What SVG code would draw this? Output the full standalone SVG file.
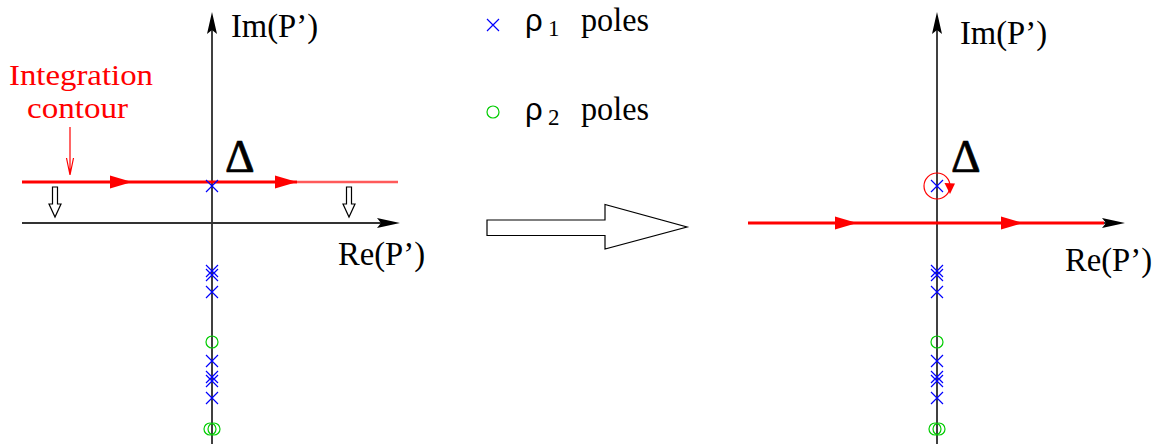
<svg xmlns="http://www.w3.org/2000/svg" width="1155" height="444" viewBox="0 0 1155 444">
<style>
.axis{stroke:#000;stroke-width:1.5;fill:none}
.haxis{stroke:#333;stroke-width:2;fill:none}
.ah{fill:#000;stroke:none}
.red{stroke:#ff0000;stroke-width:3;fill:none}
.redlight{stroke:#ff5a5a;stroke-width:2.5;fill:none}
.rah{fill:#ff0000;stroke:none}
.lbl{font-family:"Liberation Serif",serif;font-size:33px;fill:#000}
.delta{font-family:"Liberation Serif",serif;font-size:46px;fill:#000;stroke:#000;stroke-width:0.7}
.rho{font-family:"Liberation Sans",sans-serif;font-size:31px;fill:#000}
.sub{font-family:"Liberation Serif",serif;font-size:23px;fill:#000}
.redtxt{font-family:"Liberation Serif",serif;font-size:30px;fill:#ff0000}
.hollow{fill:#fff;stroke:#000;stroke-width:1.2}
</style>
<defs>
<g id="x"><path d="M-6,-6 L6,6 M-6,6 L6,-6" stroke="#0000ff" stroke-width="1.2" fill="none"/></g>
<g id="xx"><path d="M-6,-8 L6,4 M-6,4 L6,-8 M-6,-4 L6,8 M-6,8 L6,-4" stroke="#0000ff" stroke-width="1.2" fill="none"/></g>
<g id="o"><circle r="6" fill="none" stroke="#00cc00" stroke-width="1.2"/></g>
<g id="oo"><circle cx="-2" r="6" fill="none" stroke="#00cc00" stroke-width="1.2"/><circle cx="2" r="6" fill="none" stroke="#00cc00" stroke-width="1.2"/></g>
</defs>

<g id="connectors">
<!-- left plane axes -->
<line class="axis" x1="212" y1="444" x2="212" y2="28"/>
<path class="ah" d="M212,12 L217,34 L212,30 L207,34 Z"/>
<line class="haxis" x1="22" y1="223" x2="384" y2="223"/>
<path class="ah" d="M400,223 L377,218 L381,223 L377,228 Z"/>
<!-- left contour -->
<line class="red" x1="22" y1="182" x2="297" y2="182"/>
<line class="redlight" x1="297" y1="182" x2="398" y2="182"/>
<path class="rah" d="M132,182 L110,175.5 L110,188.5 Z"/>
<path class="rah" d="M297,182 L275,175.5 L275,188.5 Z"/>
<!-- label pointer -->
<path d="M70,127 L70,175 M66.5,158 L70,175 L73.5,158" stroke="#ff0000" stroke-width="1.2" fill="none"/>
<!-- shift arrows -->
<path class="hollow" d="M52.5,187 L57.5,187 L57.5,204 L61,204 L55,217 L49,204 L52.5,204 Z"/>
<path class="hollow" d="M346.5,187 L351.5,187 L351.5,204 L355,204 L349,217 L343,204 L346.5,204 Z"/>
<!-- big transformation arrow -->
<path class="hollow" d="M487,220 L605,220 L605,204.5 L687,227 L605,249 L605,235.5 L487,235.5 Z"/>
<!-- right plane axes -->
<line class="axis" x1="937" y1="444" x2="937" y2="28"/>
<path class="ah" d="M937,12 L942,34 L937,30 L932,34 Z"/>
<line class="haxis" x1="748" y1="223" x2="1110" y2="223"/>
<path class="ah" d="M1125,223 L1102,218 L1106,223 L1102,228 Z"/>
<line class="red" x1="748" y1="223" x2="1104" y2="223"/>
<path class="rah" d="M857,223 L835,216.5 L835,229.5 Z"/>
<path class="rah" d="M1023,223 L1001,216.5 L1001,229.5 Z"/>
<!-- small circle around pole -->
<circle cx="937" cy="186" r="13" fill="none" stroke="#ff0000" stroke-width="1.2"/>
<path class="rah" d="M944.5,183 L955,183.5 L950,194 Z"/>
</g>

<g id="left-labels">
<text class="lbl" x="231" y="37" textLength="87" lengthAdjust="spacingAndGlyphs">Im(P’)</text>
<text class="lbl" x="338" y="265" textLength="87" lengthAdjust="spacingAndGlyphs">Re(P’)</text>
<text class="redtxt" x="9" y="85" textLength="144" lengthAdjust="spacingAndGlyphs">Integration</text>
<text class="redtxt" x="27" y="118" textLength="101" lengthAdjust="spacingAndGlyphs">contour</text>
<text class="delta" x="225" y="172">Δ</text>
</g>

<g id="right-labels">
<text class="lbl" x="960" y="44" textLength="87" lengthAdjust="spacingAndGlyphs">Im(P’)</text>
<text class="lbl" x="1065" y="271" textLength="87" lengthAdjust="spacingAndGlyphs">Re(P’)</text>
<text class="delta" x="951" y="172">Δ</text>
</g>

<g id="legend">
<use href="#x" x="493" y="25"/>
<text class="rho" x="525" y="31">ρ</text>
<text class="sub" x="548" y="36">1</text>
<text class="lbl" x="581" y="31" textLength="68" lengthAdjust="spacingAndGlyphs">poles</text>
<use href="#o" x="493" y="112"/>
<text class="rho" x="525" y="120">ρ</text>
<text class="sub" x="548" y="125">2</text>
<text class="lbl" x="581" y="120" textLength="68" lengthAdjust="spacingAndGlyphs">poles</text>
</g>

<g id="left-poles">
<use href="#x" x="212" y="186"/>
<use href="#xx" x="212" y="273"/>
<use href="#x" x="212" y="292"/>
<use href="#o" x="212" y="342"/>
<use href="#x" x="212" y="361"/>
<use href="#xx" x="212" y="379"/>
<use href="#x" x="212" y="398"/>
<use href="#oo" x="212" y="429"/>
</g>

<g id="right-poles">
<use href="#x" x="937" y="186"/>
<use href="#xx" x="937" y="273"/>
<use href="#x" x="937" y="292"/>
<use href="#o" x="937" y="342"/>
<use href="#x" x="937" y="361"/>
<use href="#xx" x="937" y="379"/>
<use href="#x" x="937" y="398"/>
<use href="#oo" x="937" y="429"/>
</g>
</svg>
